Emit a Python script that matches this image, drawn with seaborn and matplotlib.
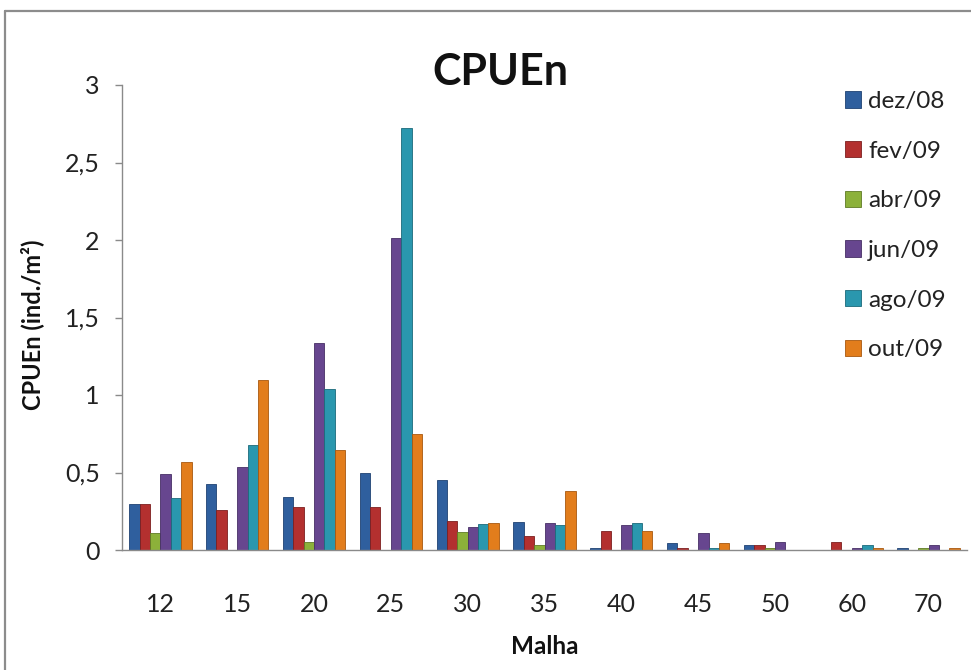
import matplotlib
matplotlib.use("Agg")
import matplotlib.pyplot as plt
from matplotlib.patches import Patch
from matplotlib.lines import Line2D
import seaborn as sns
import pandas as pd

# Mesh sizes (Malha) and CPUEn per sampling month
malha = ["12", "15", "20", "25", "30", "35", "40", "45", "50", "60", "70"]
meses = ["dez/08", "fev/09", "abr/09", "jun/09", "ago/09", "out/09"]
dez_08 = [0.30, 0.425, 0.345, 0.50, 0.45, 0.18, 0.015, 0.045, 0.034, 0.0, 0.015]
fev_09 = [0.30, 0.26, 0.275, 0.275, 0.19, 0.09, 0.124, 0.015, 0.034, 0.053, 0.0]
abr_09 = [0.11, 0.0, 0.05, 0.0, 0.117, 0.035, 0.0, 0.0, 0.015, 0.0, 0.015]
jun_09 = [0.49, 0.535, 1.335, 2.01, 0.15, 0.173, 0.16, 0.11, 0.053, 0.015, 0.034]
ago_09 = [0.335, 0.675, 1.04, 2.72, 0.167, 0.16, 0.175, 0.015, 0.0, 0.034, 0.0]
out_09 = [0.565, 1.10, 0.643, 0.75, 0.175, 0.383, 0.124, 0.045, 0.0, 0.015, 0.015]
y_ticks = [0, 0.5, 1, 1.5, 2, 2.5, 3]
y_tick_labels = ["0", "0,5", "1", "1,5", "2", "2,5", "3"]

cores = ["#2f5f9e", "#b3302f", "#8cb13a", "#67468f", "#2a97ae", "#e27d1c"]
bordas = ["#1f4272", "#7d1f1f", "#5f7a25", "#472f66", "#1b6a7b", "#a8580f"]

series = [dez_08, fev_09, abr_09, jun_09, ago_09, out_09]
df = pd.DataFrame({
    "Malha": [m for _ in meses for m in malha],
    "Mes": [mes for mes in meses for _ in malha],
    "CPUEn": [v for s in series for v in s],
})

sns.set_theme(style="white")
plt.rcParams["font.family"] = ["Lato", "DejaVu Sans"]

W, H = 971, 670
fig = plt.figure(figsize=(W / 100, H / 100), dpi=100)
ax = fig.add_axes([122 / W, 1 - 550 / H, (967 - 122) / W, (550 - 85) / H])

sns.barplot(data=df, x="Malha", y="CPUEn", hue="Mes", order=malha,
            hue_order=meses, palette=cores, width=0.81, gap=0,
            saturation=1, legend=False, ax=ax)

# darker outline per series; hide outline on empty bars
for i, cont in enumerate(ax.containers):
    for bar in cont:
        if bar.get_height() <= 0:
            bar.set_linewidth(0)
        else:
            bar.set_edgecolor(bordas[i])
            bar.set_linewidth(0.6)

ax.set_ylim(0, 3)
ax.set_xlim(-0.5, len(malha) - 0.5)
ax.set_yticks(y_ticks)
ax.set_yticklabels(y_tick_labels)

for side in ["top", "right"]:
    ax.spines[side].set_visible(False)
for side in ["left", "bottom"]:
    ax.spines[side].set_color("#8a8a8a")
    ax.spines[side].set_linewidth(1.0)

ax.tick_params(axis="y", which="major", left=True, length=5, width=1,
               color="#8a8a8a", pad=11, labelsize=18, labelcolor="#222222")
ax.tick_params(axis="x", which="major", bottom=False, pad=25,
               labelsize=18, labelcolor="#222222")

ax.set_ylabel("CPUEn (ind./m²)", fontsize=17, fontweight="bold", color="#111111")
ax.yaxis.label.set_va("center")
ax.yaxis.set_label_coords(-0.1065, 0.484)
ax.set_xlabel("Malha", fontsize=17.5, fontweight="bold", color="#111111")
ax.xaxis.label.set_va("center")
ax.xaxis.set_label_coords(0.5, -(647 - 550) / 465)

fig.text(500 / W, 1 - 72 / H, "CPUEn", ha="center", va="center",
         fontsize=31, fontweight="bold", color="#111111")

handles = [Patch(facecolor=c, edgecolor=b, linewidth=0.6) for c, b in zip(cores, bordas)]
fig.legend(handles, meses, loc="upper left",
           bbox_to_anchor=(845 / W, 1 - 91 / H), frameon=False,
           fontsize=17.5, handlelength=0.65, handleheight=0.65,
           handletextpad=0.3, labelspacing=1.18, borderpad=0,
           borderaxespad=0, labelcolor="#222222")

# chart-area frame (top and left edges)
frame_kw = dict(transform=fig.transFigure, color="#8c8c8c", linewidth=1.6)
fig.add_artist(Line2D([5 / W, 1.0], [1 - 11 / H, 1 - 11 / H], **frame_kw))
fig.add_artist(Line2D([5 / W, 5 / W], [0.0, 1 - 11 / H], **frame_kw))

fig.savefig("out.png", dpi=100, facecolor="white")
